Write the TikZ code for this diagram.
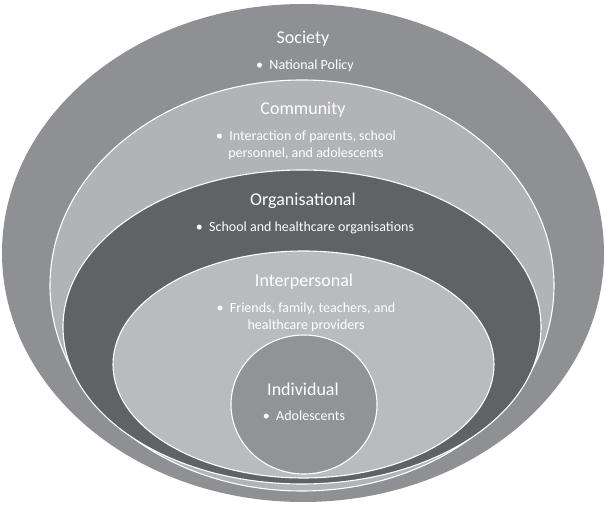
\documentclass[tikz,border=0pt]{standalone}
\usepackage{fontspec}
\setmainfont{Carlito}
\usetikzlibrary{shapes.geometric}
\definecolor{socC}{RGB}{143,144,148}
\definecolor{comC}{RGB}{178,179,181}
\definecolor{orgC}{RGB}{97,98,101}
\definecolor{intC}{RGB}{186,187,189}
\definecolor{indC}{RGB}{146,147,151}
\tikzset{
  ring/.style={ellipse, inner sep=0pt, draw=white, line width=1.1pt},
  head/.style={text=white, font=\fontsize{18}{21}\selectfont, inner sep=0pt},
  item/.style={text=white, font=\fontsize{14}{17}\selectfont, align=center, inner sep=0pt}
}
\newcommand{\bul}{•\hspace{0.45em}}
\begin{document}
\begin{tikzpicture}[x=1pt,y=-1pt]
\useasboundingbox (0,0) rectangle (606,505);
\node[ring, draw=none, fill=socC, minimum width=602pt, minimum height=498pt] (society) at (303,253) {};
\node[ring, fill=comC, minimum width=504pt, minimum height=411pt] (community) at (302,285.5) {};
\node[ring, fill=orgC, minimum width=478pt, minimum height=314pt] (organisational) at (302,327) {};
\node[ring, fill=intC, minimum width=381pt, minimum height=227pt] (interpersonal) at (303.5,364.5) {};
\node[ring, fill=indC, minimum width=146pt, minimum height=139pt] (individual) at (304,404.5) {};
\node[head] (tsoc) at (303,39) {Society};
\node[item] (isoc) at (305,66) {\bul National Policy};
\node[head] (tcom) at (303,110) {Community};
\node[item] (icom) at (306,145.5) {\bul Interaction of parents, school\\personnel, and adolescents};
\node[head] (torg) at (303,201) {Organisational};
\node[item] (iorg) at (305,228) {\bul School and healthcare organisations};
\node[head] (tint) at (304,282) {Interpersonal};
\node[item] (iint) at (306,317) {\bul Friends, family, teachers, and\\healthcare providers};
\node[head] (tind) at (303,389) {Individual};
\node[item] (iind) at (304,416) {\bul Adolescents};
\end{tikzpicture}
\end{document}
